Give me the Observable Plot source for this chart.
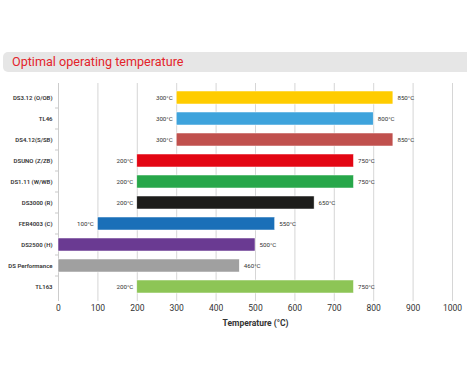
<!DOCTYPE html>
<html><head><meta charset="utf-8">
<script src="https://cdn.jsdelivr.net/npm/d3@7"></script>
<script src="https://cdn.jsdelivr.net/npm/@observablehq/plot@0.6"></script>
<style>
body{margin:0;background:#fff;font-family:Roboto,"Noto Sans",sans-serif;}
#wrap{width:467px;padding-top:52px;}
#banner{margin-left:3px;height:20px;background:#e6e6e6;border-radius:5px 0 0 5px;color:#e3242b;font-size:12.6px;line-height:20px;padding-left:9px;box-sizing:border-box;}
#chart svg{display:block;}
</style></head><body>
<div id="wrap"><div id="banner">Optimal operating temperature</div><div id="chart"></div></div>
<script>
const products = ["DS3.12 (O/OB)","TL46","DS4.12(S/SB)","DSUNO (Z/ZB)","DS1.11 (W/WB)","DS3000 (R)","FER4003 (C)","DS2500 (H)","DS Performance","TL163"];
const minTemp = [300,300,300,200,200,200,100,0,0,200];
const maxTemp = [850,800,850,750,750,650,550,500,460,750];
const colors = ["#ffcc00","#3ea3dc","#c0504d","#e30613","#27a74a","#1d1d1b","#1a6fb8","#6a3a92","#a0a0a0","#8dc556"];
const xTicks = [0,100,200,300,400,500,600,700,800,900,1000];

const data = products.map((p,i)=>({product:p,min:minTemp[i],max:maxTemp[i],color:colors[i]}));

const boundaryTicks = (index, scales, values, dims) => {
  const g = d3.create("svg:g");
  const y = scales.y, bw = y.bandwidth(), step = y.step();
  const gap = (step - bw)/2;
  products.slice(1).forEach(p=>{
    const yy = y(p) - gap;
    g.append("line").attr("x1",dims.marginLeft-3).attr("x2",dims.marginLeft).attr("y1",yy).attr("y2",yy).attr("stroke","#bbb").attr("stroke-width",0.8);
  });
  return g.node();
};

const chart = Plot.plot({
  width:467, height:260,
  marginLeft:58, marginRight:15, marginTop:11, marginBottom:31,
  style:{fontFamily:"Roboto, sans-serif", color:"#333"},
  x:{domain:[0,1000], ticks:xTicks, label:"Temperature (°C)", labelAnchor:"center", labelArrow:"none"},
  y:{domain:products, paddingInner:0.36, paddingOuter:0.18, label:null},
  marks:[
    Plot.gridX(xTicks,{stroke:"#ccc", strokeOpacity:1, strokeWidth:0.8}),
    Plot.ruleX([0],{stroke:"#ccc"}),
    Plot.axisX(xTicks,{tickSize:0, fontSize:8.5, tickPadding:3, tickFormat:d=>String(d), label:"Temperature (°C)", labelAnchor:"center", labelArrow:"none", fill:"#333", labelOffset:24}),
    Plot.axisY({tickSize:0, fontSize:6, tickPadding:6, fill:"#333", fontWeight:600, label:null}),
    Plot.barX(data,{y:"product", x1:"min", x2:"max", fill:"color", stroke:"#fff", strokeWidth:0.5}),
    Plot.text(data.filter(d=>d.min>0),{y:"product", x:"min", text:d=>d.min+"°C", textAnchor:"end", dx:-4, fontSize:6.2, fill:"#333"}),
    Plot.text(data,{y:"product", x:"max", text:d=>d.max+"°C", textAnchor:"start", dx:4, fontSize:6.2, fill:"#333"}),
    boundaryTicks
  ]
});
chart.querySelectorAll("g[aria-label='x-axis label'] text").forEach(t=>{t.setAttribute("font-weight","bold");t.setAttribute("font-size","8.5");});
document.getElementById("chart").appendChild(chart);
</script></body></html>
